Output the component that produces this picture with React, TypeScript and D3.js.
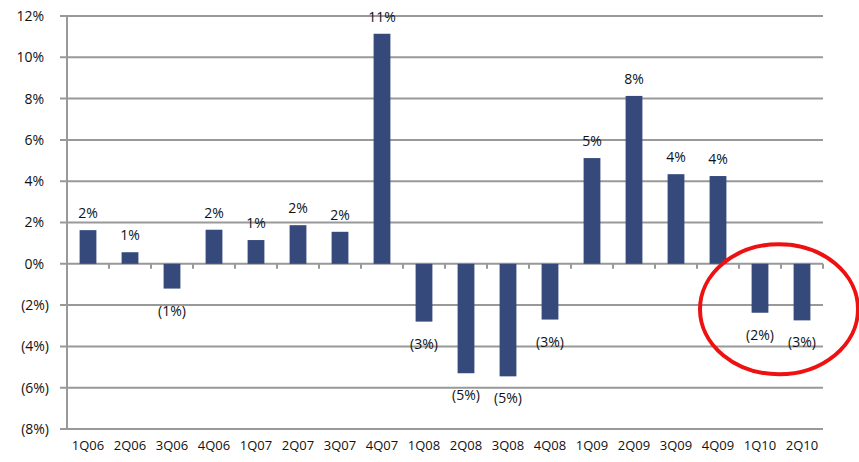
import React from "react";
import * as d3 from "d3";

const quarters = [
  "1Q06", "2Q06", "3Q06", "4Q06", "1Q07", "2Q07", "3Q07", "4Q07", "1Q08",
  "2Q08", "3Q08", "4Q08", "1Q09", "2Q09", "3Q09", "4Q09", "1Q10", "2Q10",
];
const growth = [
  1.63, 0.56, -1.2, 1.65, 1.15, 1.87, 1.55, 11.14, -2.8,
  -5.3, -5.45, -2.7, 5.12, 8.13, 4.34, 4.25, -2.37, -2.74,
];
const yTicks = [12, 10, 8, 6, 4, 2, 0, -2, -4, -6, -8];
const highlighted = ["1Q10", "2Q10"];

const W = 859;
const H = 462;
const left = 67;
const right = 823;
const top = 16;
const bottom = 429;

const fmt = (v: number) => {
  const r = Math.round(Math.abs(v));
  return v < 0 ? `(${r}%)` : `${r}%`;
};

export default function App() {
  const x = d3.scaleBand<string>().domain(quarters).range([left, right]).paddingInner(0.6).paddingOuter(0.3);
  const band = d3.scaleBand<string>().domain(quarters).range([left, right]);
  const y = d3.scaleLinear().domain([-8, 12]).range([bottom, top]);
  const y0 = y(0);
  const font = "'Open Sans', sans-serif";
  const grid = "#999999";

  // Ring drawn around the most recent quarters
  const hiX0 = band(highlighted[0])!;
  const hiX1 = band(highlighted[1])! + band.bandwidth();
  const cx = (hiX0 + hiX1) / 2 - 2;
  const cy = y(-2.2);

  return (
    <svg width={W} height={H} style={{ position: "absolute", left: 0, top: 0, background: "#fff" }}>
      {yTicks.map((t) => (
        <g key={t}>
          <line x1={60} x2={right} y1={y(t)} y2={y(t)} stroke={grid} strokeWidth={2} />
          <text
            x={t < 0 ? 49 : 44}
            y={y(t)}
            dy="0.35em"
            textAnchor="end"
            fontFamily={font}
            fontSize={14}
            fill="#111"
          >
            {fmt(t)}
          </text>
        </g>
      ))}
      <line x1={left} x2={left} y1={top} y2={bottom} stroke={grid} strokeWidth={2} />
      {quarters.map((q, i) =>
        i === 0 ? null : (
          <line key={q} x1={band(q)!} x2={band(q)!} y1={y0} y2={y0 + 5} stroke={grid} strokeWidth={2} />
        )
      )}
      <line x1={right} x2={right} y1={y0} y2={y0 + 5} stroke={grid} strokeWidth={2} />
      {quarters.map((q, i) => {
        const v = growth[i];
        const bx = x(q)!;
        const bw = x.bandwidth();
        const yv = y(v);
        return (
          <g key={q}>
            <rect
              x={bx}
              y={Math.min(yv, y0)}
              width={bw}
              height={Math.abs(yv - y0)}
              fill="#354A7B"
            />
            <text
              x={bx + bw / 2}
              y={v >= 0 ? yv - 12 : yv + 27}
              textAnchor="middle"
              fontFamily={font}
              fontSize={14}
              fill="#111"
            >
              {fmt(v)}
            </text>
            <text
              x={band(q)! + band.bandwidth() / 2}
              y={450}
              textAnchor="middle"
              fontFamily={font}
              fontSize={13}
              fill="#111"
            >
              {q}
            </text>
          </g>
        );
      })}
      <ellipse cx={cx} cy={cy} rx={79} ry={65} fill="none" stroke="#EE1111" strokeWidth={4} />
    </svg>
  );
}
